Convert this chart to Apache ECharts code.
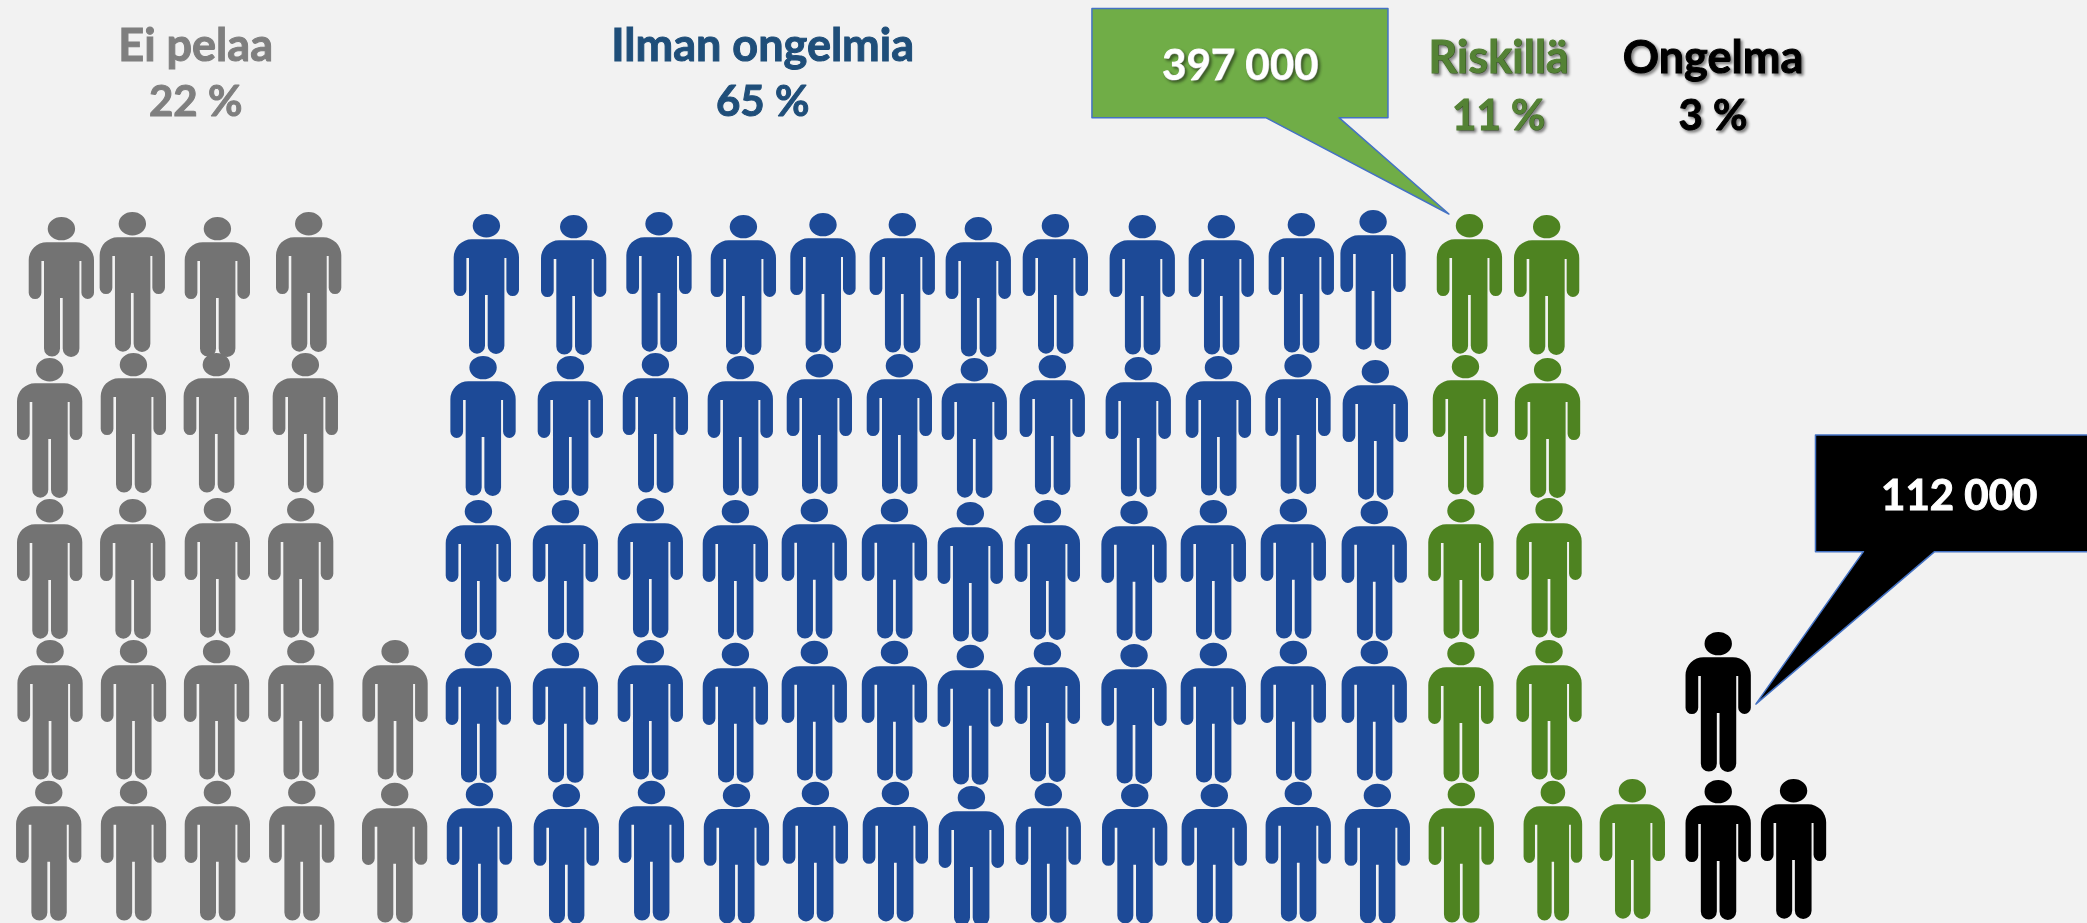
<!DOCTYPE html>
<html><head><meta charset="utf-8">
<style>html,body{margin:0;padding:0;background:#f2f2f2;overflow:hidden}#c{width:2087px;height:923px}</style>
<script src="https://cdn.jsdelivr.net/npm/echarts@6/dist/echarts.min.js"></script>
</head><body><div id="c"></div>
<script>
// head-centre positions of each person icon, in picture units (1568 x 693.5)
const eiPelaa = [
 [46.1,171.8],[99.4,168.1],[163.3,171.8],[231.9,168.1],
 [37.3,277.8],[100.2,274],[162.5,274],[229.4,274],
 [37.3,383.7],[99.7,383.7],[163.3,383],[225.9,383],
 [37.6,489.6],[100.3,489.6],[162.7,489.6],[226,489.6],[296.8,489.6],
 [36.6,595.5],[100.3,595.5],[163.3,595.5],[226.7,595.5],[296.5,597]
];
const ilmanOngelmia = [
 [365.4,169.6],[431,170.3],[495.1,168.1],[558.5,170.3],[618.3,168.8],[677.9,168.8],[735,171.8],[792.9,169.6],[858.2,170.3],[917.6,170.3],[977.7,168.8],[1031.6,166.6],
 [362.9,276.2],[428.5,276.2],[492.4,274],[556.2,276.2],[615.6,274.8],[675.7,274.8],[732,277.8],[790.6,275.5],[855.2,277],[915.4,276.2],[975.2,274.8],[1033.3,279.3],
 [359.4,384.4],[424.8,384.4],[488.6,382.9],[552.5,384.4],[611.8,383.6],[672,383.6],[729,385.9],[786.9,384.4],[852,385.1],[911.6,384.4],[971.7,383.6],[1032.5,385.1],
 [359.4,491.8],[424.8,491.8],[488.6,489.6],[552.5,491.8],[611.8,490.3],[672,490.3],[729,493.3],[786.9,491.1],[852,492.6],[911.6,491.8],[971.7,490.3],[1032.5,490.3],
 [360.2,597],[425.5,597.7],[489.4,595.5],[553.3,597.7],[612.6,596.2],[672.7,596.2],[729.8,599.3],[787.6,597],[852.5,597.7],[912.3,597.7],[975.4,596.2],[1034.8,597.7]
];
const riskilla = [
 [1104,169.6],[1162,170.3],[1101,275.5],[1162.7,277.8],[1097.6,383.7],[1163.8,382.9],[1097.6,491.1],[1163.8,489.6],
 [1097.9,597],[1166.7,595.5,58.6],[1226.4,594.1]
];
const ongelma = [[1290.9,483.6],[1290.9,594.8],[1347.5,594.1]];

// text, x, y, colour, shadow, size
const labelTexts = [
 ['Ei pelaa',147,35,'#7f7f7f',0,45],['22 %',147,77,'#7f7f7f',0,42],
 ['Ilman ongelmia',573,35,'#1f4e79',0,45],['65 %',573,77,'#1f4e79',0,42],
 ['397 000',932,50,'#ffffff',1,42],
 ['Riskillä',1126,44,'#548235',1,45],['11 %',1126,87.5,'#548235',1,42],
 ['Ongelma',1287,44,'#000000',1,45],['3 %',1287,87.5,'#000000',1,42],
 ['112 000',1472,373,'#ffffff',0,42]
];
// callout outlines: rectangle with a pointed tail
const greenCallout = [[820.4,6.3],[1042.8,6.3],[1042.8,88.4],[1006,88.4],[1088.6,160.8],[951,88.4],[820.4,88.4]];
const blackCallout = [[1364,326.8],[1575,326.8],[1575,414.5],[1453.5,414.5],[1319.2,529],[1400,414.5],[1364,414.5]];

const PERSON = 'path://M18 25.3H47.3A18 18 0 0 1 65.3 43.3V75.7A6.3 6.3 0 0 1 52.7 75.7V44H50.7V131.65A8.35 8.35 0 0 1 34 131.65V81H31.3V131.65A8 8 0 0 1 15.3 131.65V44H12.7V75.7A6.35 6.35 0 0 1 0 75.7V43.3A18 18 0 0 1 18 25.3Z'
 + 'M19 11.7A13.7 11.7 0 1 1 46.4 11.7A13.7 11.7 0 1 1 19 11.7Z';

function people(name, data, color){
  return {type:'scatter', name, data, symbol:PERSON,
    symbolSize:(v)=>[v[2]||65.3,140], symbolOffset:[0,58.3],
    itemStyle:{color,opacity:1}, silent:true, z:3, clip:false};
}
function callout(name, pts, fill){
  return {type:'custom', name, coordinateSystem:'cartesian2d', data:[0], silent:true, z:4, clip:false,
    encode:{x:[],y:[]},
    renderItem:(p,api)=>({type:'polygon',shape:{points:pts.map(q=>api.coord(q))},
      style:{fill,stroke:'#4472c4',lineWidth:1.5,lineJoin:'round'}})};
}
const FONT = 'Lato, "Open Sans", sans-serif';
const chart = echarts.init(document.getElementById('c'),null,{renderer:'canvas'});
chart.setOption({
  animation:false, backgroundColor:'#f2f2f2',
  grid:{left:0,right:0,top:0,bottom:0},
  xAxis:{type:'value',min:0,max:1568,show:false},
  yAxis:{type:'value',min:0,max:693.5,inverse:true,show:false},
  tooltip:{show:false},
  series:[
    people('Ei pelaa',eiPelaa,'#737373'),
    people('Ilman ongelmia',ilmanOngelmia,'#1d4a97'),
    people('Riskillä',riskilla,'#4e8321'),
    people('Ongelma',ongelma,'#000000'),
    callout('397 000',greenCallout,'#70ad47'),
    callout('112 000',blackCallout,'#000000'),
    {type:'custom',name:'labels',coordinateSystem:'cartesian2d',silent:true,z:6,clip:false,
     encode:{x:[],y:[]},data:labelTexts.map((t,i)=>i),
     renderItem:(p,api)=>{
       const t=labelTexts[api.value(0)]; const c=api.coord([t[1],t[2]]);
       return {type:'text',x:c[0],y:c[1],style:{text:t[0],fill:t[3],stroke:t[3],lineWidth:1,align:'center',verticalAlign:'middle',
         font:'bold '+t[5]+'px '+FONT,
         textShadowColor:t[4]?'rgba(0,0,0,0.45)':'transparent',textShadowBlur:t[4]?3:0,
         textShadowOffsetX:t[4]?2:0,textShadowOffsetY:t[4]?2:0}};
     }}
  ]
});
</script></body></html>
